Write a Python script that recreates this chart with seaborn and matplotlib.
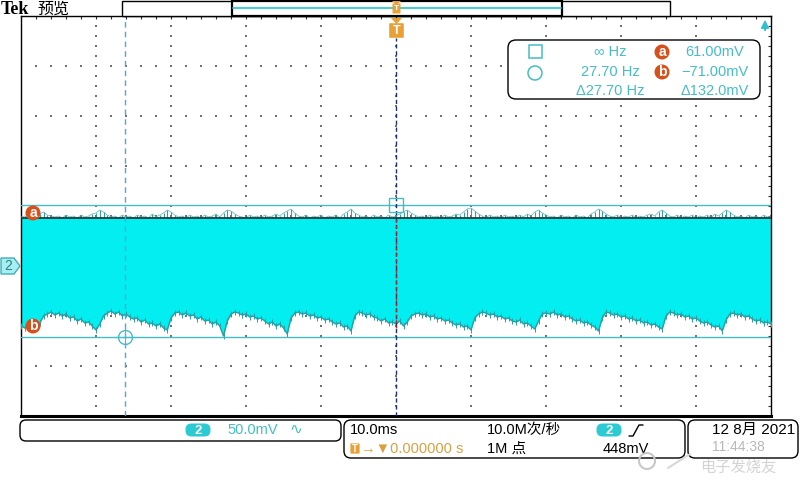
import numpy as np
import matplotlib
matplotlib.use("Agg")
import matplotlib.pyplot as plt
import seaborn as sns
from matplotlib.patches import FancyBboxPatch, Rectangle, Circle, Polygon

t_start_ms = -50.0
t_step_ms = 0.5
lower_mv = [
    -60, -62, -58, -60, -56, -57, -50, -48, -46, -49,
    -47, -50, -48, -52, -51, -55, -53, -57, -56, -60,
    -64, -58, -50, -47, -45, -48, -46, -50, -48, -51,
    -53, -52, -56, -54, -58, -57, -60, -58, -62, -64,
    -52, -47, -46, -49, -47, -50, -49, -53, -51, -55,
    -54, -58, -56, -60, -70, -55, -48, -46, -47, -49,
    -48, -51, -50, -53, -52, -55, -58, -56, -60, -58,
    -62, -68, -52, -47, -46, -48, -47, -50, -49, -52,
    -51, -54, -53, -56, -58, -57, -61, -60, -65, -50,
    -46, -47, -49, -48, -51, -52, -55, -53, -57, -56,
    -58, -55, -60, -56, -50, -48, -47, -49, -48, -51,
    -50, -53, -52, -55, -54, -57, -59, -58, -61, -60,
    -64, -52, -48, -46, -47, -49, -48, -51, -50, -53,
    -52, -55, -56, -54, -58, -57, -60, -63, -55, -48,
    -47, -48, -46, -49, -48, -51, -50, -53, -55, -54,
    -57, -56, -59, -61, -65, -52, -46, -47, -49, -48,
    -51, -50, -53, -52, -55, -54, -57, -56, -59, -58,
    -61, -63, -50, -46, -47, -49, -48, -51, -50, -53,
    -52, -55, -57, -56, -59, -61, -60, -65, -54, -48,
    -47, -49, -48, -51, -50, -53, -55, -54, -57, -56,
    -58,
]
upper_mv = [
    49, 50, 48, 51, 49, 52, 54, 51, 50, 49,
    50, 48, 51, 49, 50, 48, 51, 49, 50, 52,
    53, 56, 54, 51, 49, 50, 48, 51, 49, 50,
    48, 51, 49, 50, 48, 52, 49, 51, 53, 56,
    54, 51, 49, 50, 48, 51, 49, 50, 48, 51,
    49, 50, 52, 49, 53, 56, 55, 52, 50, 49,
    48, 51, 49, 50, 48, 51, 49, 50, 52, 50,
    53, 55, 57, 53, 50, 49, 51, 48, 50, 49,
    51, 48, 50, 49, 51, 48, 52, 54, 57, 53,
    51, 49, 50, 48, 51, 49, 50, 48, 51, 49,
    50, 52, 54, 56, 53, 51, 49, 50, 48, 51,
    49, 50, 48, 51, 49, 50, 52, 51, 54, 57,
    58, 55, 52, 50, 48, 51, 49, 50, 48, 51,
    49, 50, 48, 51, 49, 52, 50, 54, 56, 53,
    51, 49, 50, 48, 51, 49, 50, 48, 51, 49,
    50, 48, 52, 54, 57, 55, 52, 50, 49, 51,
    48, 50, 49, 51, 48, 50, 49, 51, 52, 50,
    54, 56, 53, 50, 49, 51, 48, 50, 49, 51,
    48, 50, 49, 51, 48, 52, 50, 53, 56, 54,
    51, 49, 50, 48, 51, 49, 50, 48, 51, 49,
    50,
]
top_mv = 48.5
cursor_t_ms = [-36.1, 0.0]          # vertical cursors (circle, square)
cursor_v_mv = [61.0, -71.0]         # horizontal cursors a, b
cursor_names = ["a", "b"]
freq_readout = ["\u221e Hz", "27.70 Hz", "\u039427.70 Hz"]
volt_readout = ["61.00mV", "\u221271.00mV", "\u0394132.0mV"]
time_div_ms = 10.0
volt_div_mv = 50.0
x_lim = [-50, 50]
y_lim = [-150, 250]

# ---------------- style ----------------
sns.set_style("white")
plt.rcParams["font.family"] = ["Liberation Sans", "DejaVu Sans", "Noto Sans CJK SC"]
CJK = ["Liberation Sans", "Noto Sans CJK SC", "DejaVu Sans"]

CYAN = "#02EEF0"
TEAL = "#45BDC6"
DARKTEAL = "#2a9ea5"
ORANGE = "#E9A035"
RED_OR = "#D6501C"

fig = plt.figure(figsize=(8, 4.8), dpi=100)
ax = fig.add_axes([21 / 800, 1 - 416 / 480, 750 / 800, 400 / 480])
ax.set_facecolor("white")

t = t_start_ms + t_step_ms * np.arange(len(lower_mv))
lower = np.array(lower_mv, dtype=float)
upper = np.array(upper_mv, dtype=float)

# graticule dots
for xv in np.arange(x_lim[0] + time_div_ms, x_lim[1], time_div_ms):
    ys = np.arange(y_lim[0], y_lim[1] + 1, 10)
    ax.scatter(np.full(len(ys), xv), ys, s=1.8, marker="s", color="#707070", lw=0, zorder=1)
for yv in np.arange(y_lim[0] + volt_div_mv, y_lim[1], volt_div_mv):
    xs = np.arange(x_lim[0], x_lim[1] + 0.1, 2)
    ax.scatter(xs, np.full(len(xs), yv), s=1.8, marker="s", color="#707070", lw=0, zorder=1)

# waveform
ax.fill_between(t, lower, top_mv, color=CYAN, lw=0, zorder=2)
sns.lineplot(x=t, y=lower, ax=ax, color=DARKTEAL, lw=1.0, zorder=3)
ax.plot(t, lower, ls="none", marker="|", ms=4, mew=0.7, color=DARKTEAL, zorder=3)
ax.vlines(t, top_mv, upper, color="#3a9aa0", lw=0.8, zorder=3)
sns.lineplot(x=t, y=upper, ax=ax, color="#58b4b8", lw=0.5, zorder=3)
ax.axhline(top_mv, color="#1c3a3c", lw=1.3, zorder=3)

# cursors
for v in cursor_v_mv:
    ax.axhline(v, color=TEAL, lw=1.0, zorder=4)
ax.axvline(cursor_t_ms[0], color="#4aa8e0", lw=1.0, ls=(0, (4, 3)), zorder=4)
# trigger line
ax.plot([0, 0], [y_lim[0], 228], color="#1a3270", lw=1.0, ls=(0, (3, 2)), zorder=4)
ax.plot([0, 0], [-62, top_mv], color="#c02828", lw=1.0, ls=(0, (2, 2)), zorder=4)
# cursor markers
ax.plot([cursor_t_ms[0]], [cursor_v_mv[1]], marker="o", ms=10, mfc="none", mec=TEAL, mew=1.0, zorder=5)
ax.plot([cursor_t_ms[0]], [cursor_v_mv[1]], marker="+", ms=14, mec=TEAL, mew=0.8, zorder=5)
ax.plot([cursor_t_ms[1]], [cursor_v_mv[0]], marker="s", ms=10, mfc="none", mec=TEAL, mew=1.0, zorder=5)

ax.set_xlim(x_lim)
ax.set_ylim(y_lim)
ax.set_xticks(np.arange(x_lim[0], x_lim[1] + 0.1, 2))
ax.set_yticks(np.arange(y_lim[0], y_lim[1] + 1, 10))
ax.tick_params(which="both", direction="in", length=2.5, width=0.8, color="#303030",
               top=True, right=True, labelbottom=False, labelleft=False)
ax.set_xlabel("")
ax.set_ylabel("")
for s in ["left", "right", "top"]:
    ax.spines[s].set_color("black")
    ax.spines[s].set_linewidth(1.0)
ax.spines["bottom"].set_color("black")
ax.spines["bottom"].set_linewidth(2.2)

# ---------------- overlay (pixel coordinates) ----------------
ov = fig.add_axes([0, 0, 1, 1], zorder=5)
ov.set_xlim(0, 800)
ov.set_ylim(480, 0)
ov.axis("off")
ov.patch.set_alpha(0)


def rbox(x0, y0, x1, y1, r=6, ec="black", fc="white", lw=1.0, z=6):
    p = FancyBboxPatch((x0 + r, y0 + r), (x1 - x0) - 2 * r, (y1 - y0) - 2 * r,
                       boxstyle=f"round,pad={r}", ec=ec, fc=fc, lw=lw, zorder=z)
    ov.add_patch(p)


def badge(cx, cy, txt, w=25, h=13, fc="#2ccad2"):
    r = h / 2 - 0.5
    p = FancyBboxPatch((cx - w / 2 + r, cy - h / 2 + r), w - 2 * r, h - 2 * r,
                       boxstyle=f"round,pad={r}", fc=fc, ec="none", zorder=8)
    ov.add_patch(p)
    ov.text(cx, cy + 0.5, txt, ha="center", va="center", color="white", fontsize=9.5,
            fontweight="bold", zorder=9)


# title
ov.text(1, 9, "Tek", ha="left", va="center", fontsize=13, fontweight="bold",
        family=["Liberation Serif", "DejaVu Serif"], color="black")
ov.text(37, 9, "预览", ha="left", va="center", fontsize=11.5, family=["Noto Sans CJK SC"],
        fontweight="light", color="black")

# top record bar
ov.add_patch(Rectangle((122, 1), 548, 15, fc="white", ec="black", lw=1.0, zorder=6))
ov.add_patch(Rectangle((232, 1), 330, 15, fc="white", ec="black", lw=1.6, zorder=6))
ov.plot([233, 561], [8, 8], color="#30c8d8", lw=1.3, zorder=7)
ov.add_patch(FancyBboxPatch((393, 4), 7, 9, boxstyle="round,pad=0.5", fc=ORANGE, ec="none", zorder=8))
ov.add_patch(Polygon([[392, 1], [401, 1], [396.5, 5]], closed=True, fc=ORANGE, ec="none", zorder=8))
ov.text(396.5, 9, "T", ha="center", va="center", color="white", fontsize=6, fontweight="bold", zorder=9)

# trigger T marker
ov.add_patch(Polygon([[391, 18], [402, 18], [396.5, 24]], closed=True, fc=ORANGE, ec="none", zorder=8))
ov.add_patch(FancyBboxPatch((390, 24), 13, 13, boxstyle="round,pad=0.8", fc=ORANGE, ec="none", zorder=8))
ov.text(396.5, 31, "T", ha="center", va="center", color="white", fontsize=9, fontweight="bold", zorder=9)

# top-right arrow
ov.annotate("", xy=(765, 17), xytext=(765, 33),
            arrowprops=dict(arrowstyle="-|>", color="#30c0d0", lw=1.4, mutation_scale=11), zorder=8)

# channel 2 marker
ov.add_patch(Polygon([[1, 258], [14, 258], [20, 266], [14, 274], [1, 274]], closed=True,
                     fc="#a8eef0", ec="#40b0b8", lw=1.0, zorder=8))
ov.text(8, 266.5, "2", ha="center", va="center", color="#2a8088", fontsize=10, zorder=9)

# cursor a/b labels
for name, yy in zip(cursor_names, [213, 326]):
    ov.add_patch(Circle((33, yy), 7.5, fc=RED_OR, ec="none", zorder=8))
    ov.text(33, yy, name, ha="center", va="center", color="white", fontsize=10,
            fontweight="bold", zorder=9)

# measurement readout box
rbox(508, 40, 760, 99, r=8)
ov.add_patch(Rectangle((529, 45), 13, 13, fc="none", ec=TEAL, lw=1.1, zorder=8))
ov.add_patch(Circle((535, 73), 7, fc="none", ec=TEAL, lw=1.1, zorder=8))
for i, (f, v) in enumerate(zip(freq_readout, volt_readout)):
    yy = 52 + i * 19.5
    ov.text(610, yy, f, ha="center", va="center", color=TEAL, fontsize=10.5, zorder=9)
    ov.text(715, yy, v, ha="center", va="center", color=TEAL, fontsize=10.5, zorder=9)
for name, yy in zip(cursor_names, [52, 72]):
    ov.add_patch(Circle((662, yy), 7.5, fc=RED_OR, ec="none", zorder=8))
    ov.text(662, yy, name, ha="center", va="center", color="white", fontsize=10,
            fontweight="bold", zorder=9)

# bottom status boxes
rbox(20, 420, 341, 441, r=6)
badge(198, 430, "2")
ov.text(227, 430, f"{volt_div_mv:.1f}mV", ha="left", va="center", color=TEAL, fontsize=10.5, zorder=9)
ov.text(296, 430, "\u223f", ha="center", va="center", color=TEAL, fontsize=11, zorder=9)

rbox(344, 420, 685, 458, r=7)
ov.text(350, 430, f"{time_div_ms:.1f}ms", ha="left", va="center", color="black", fontsize=10.5, zorder=9)
ov.text(487, 430, "10.0M次/秒", ha="left", va="center", color="black", fontsize=10.5, family=CJK, zorder=9)
badge(609, 430, "2")
ov.plot([629, 633, 639, 643], [436, 436, 425, 425], color="black", lw=1.0, zorder=9)
ov.add_patch(FancyBboxPatch((351, 444), 8, 9, boxstyle="round,pad=0.6", fc=ORANGE, ec="none", zorder=8))
ov.text(355, 448.5, "T", ha="center", va="center", color="white", fontsize=7, fontweight="bold", zorder=9)
ov.text(361, 449, "\u2192\u25bc0.000000 s", ha="left", va="center", color="#D9A040", fontsize=10.5,
        family=["Liberation Sans", "DejaVu Sans"], zorder=9)
ov.text(487, 449, "1M 点", ha="left", va="center", color="black", fontsize=10.5, family=CJK, zorder=9)
ov.text(603, 449, "448mV", ha="left", va="center", color="black", fontsize=10.5, zorder=9)

rbox(688, 420, 798, 458, r=7)
ov.text(712, 430, "12 8月 2021", ha="left", va="center", color="black", fontsize=11, family=CJK, zorder=9)
ov.text(712, 447, "11:44:38", ha="left", va="center", color="#b8b8b8", fontsize=10, zorder=9)

# faint watermark
ov.add_patch(Circle((647, 461), 8, fc="none", ec="#c8c8c8", lw=1.5, zorder=10))
ov.plot([668, 690], [468, 454], color="#d8d8d8", lw=1.5, zorder=10)
ov.text(700, 467, "电子发烧友", ha="left", va="center", color="#c8c8c8", fontsize=11,
        family=["Noto Sans CJK SC"], alpha=0.8, zorder=10)

fig.savefig("out.png", dpi=100)
